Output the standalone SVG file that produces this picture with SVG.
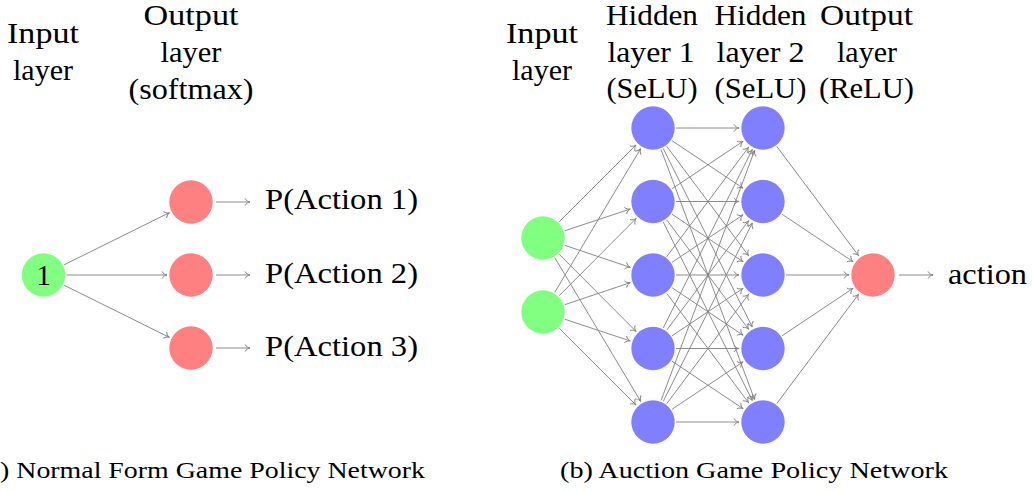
<svg xmlns="http://www.w3.org/2000/svg" width="1033" height="491" viewBox="0 0 1033 491">
<style>
text{font-family:'Liberation Serif','DejaVu Serif',serif;fill:#000;}
.t{font-size:29.5px;text-anchor:middle;}
.s{font-size:29.5px;}
.c{font-size:23px;}
.g{fill:#80ff80;}
.r{fill:#ff8080;}
.b{fill:#8080ff;}
#edges line{stroke:#808080;stroke-width:0.9;fill:none;marker-end:url(#ah);}
</style>
<defs>
<marker id="ah" markerUnits="userSpaceOnUse" orient="auto" viewBox="-6 -5 7 10" markerWidth="7" markerHeight="10" refX="0" refY="0">
<path d="M-5,-3.6 C-4,-1.4 -1.6,-0.3 0,0 C-1.6,0.3 -4,1.4 -5,3.6" fill="none" stroke="#808080" stroke-width="0.9"/>
</marker>
</defs>

<g id="labels" font-family="Liberation Serif, DejaVu Serif, serif">
<text class="t" x="43" y="43" textLength="72" lengthAdjust="spacingAndGlyphs">Input</text>
<text class="t" x="43" y="80" textLength="60" lengthAdjust="spacingAndGlyphs">layer</text>
<text class="t" x="191" y="25" textLength="95" lengthAdjust="spacingAndGlyphs">Output</text>
<text class="t" x="191" y="62" textLength="61" lengthAdjust="spacingAndGlyphs">layer</text>
<text class="t" x="191" y="99" textLength="125" lengthAdjust="spacingAndGlyphs">(softmax)</text>

<text class="t" x="542" y="43" textLength="72" lengthAdjust="spacingAndGlyphs">Input</text>
<text class="t" x="542" y="80" textLength="60" lengthAdjust="spacingAndGlyphs">layer</text>
<text class="t" x="652" y="25" textLength="92" lengthAdjust="spacingAndGlyphs">Hidden</text>
<text class="t" x="651" y="61.5" textLength="87" lengthAdjust="spacingAndGlyphs">layer 1</text>
<text class="t" x="652" y="98" textLength="91" lengthAdjust="spacingAndGlyphs">(SeLU)</text>
<text class="t" x="760.5" y="25" textLength="92" lengthAdjust="spacingAndGlyphs">Hidden</text>
<text class="t" x="760.5" y="61.5" textLength="88" lengthAdjust="spacingAndGlyphs">layer 2</text>
<text class="t" x="760.5" y="98" textLength="92" lengthAdjust="spacingAndGlyphs">(SeLU)</text>
<text class="t" x="866.5" y="25" textLength="93" lengthAdjust="spacingAndGlyphs">Output</text>
<text class="t" x="867" y="61.5" textLength="60" lengthAdjust="spacingAndGlyphs">layer</text>
<text class="t" x="866.5" y="98" textLength="95" lengthAdjust="spacingAndGlyphs">(ReLU)</text>

<text class="s" x="265" y="209" textLength="153" lengthAdjust="spacingAndGlyphs">P(Action 1)</text>
<text class="s" x="265" y="282.5" textLength="153" lengthAdjust="spacingAndGlyphs">P(Action 2)</text>
<text class="s" x="265" y="356" textLength="153" lengthAdjust="spacingAndGlyphs">P(Action 3)</text>
<text class="s" x="948" y="284" textLength="79" lengthAdjust="spacingAndGlyphs">action</text>

<text class="c" x="0" y="478" textLength="425" lengthAdjust="spacingAndGlyphs">) Normal Form Game Policy Network</text>
<text class="c" x="560" y="478" textLength="388" lengthAdjust="spacingAndGlyphs">(b) Auction Game Policy Network</text>
</g>

<g id="edges">
<line x1="64.1" y1="264.8" x2="169.5" y2="212.6"/>
<line x1="66.5" y1="275" x2="167" y2="275"/>
<line x1="64.1" y1="285.2" x2="169.5" y2="337.4"/>
<line x1="216" y1="202" x2="250" y2="202"/>
<line x1="216" y1="275" x2="250" y2="275"/>
<line x1="216" y1="348" x2="250" y2="348"/>

<line x1="559.26" y1="221.74" x2="636.03" y2="144.97"/>
<line x1="564.83" y1="230.76" x2="630.22" y2="209.06"/>
<line x1="564.80" y1="245.33" x2="630.25" y2="267.35"/>
<line x1="559.23" y1="254.30" x2="636.07" y2="331.49"/>
<line x1="554.80" y1="257.74" x2="640.69" y2="401.40"/>
<line x1="554.80" y1="292.26" x2="640.69" y2="148.60"/>
<line x1="559.23" y1="295.70" x2="636.07" y2="218.51"/>
<line x1="564.80" y1="304.67" x2="630.25" y2="282.65"/>
<line x1="564.83" y1="319.24" x2="630.22" y2="340.94"/>
<line x1="559.26" y1="328.26" x2="636.03" y2="405.03"/>

<line x1="676" y1="128" x2="739" y2="128"/>
<line x1="672.12" y1="140.78" x2="743.05" y2="188.17"/>
<line x1="666.78" y1="146.41" x2="748.62" y2="255.78"/>
<line x1="663.27" y1="148.58" x2="752.29" y2="327.02"/>
<line x1="661.06" y1="149.54" x2="754.59" y2="399.52"/>
<line x1="672.12" y1="188.72" x2="743.05" y2="141.33"/>
<line x1="676" y1="201.5" x2="739" y2="201.5"/>
<line x1="672.12" y1="214.28" x2="743.05" y2="261.67"/>
<line x1="666.78" y1="219.91" x2="748.62" y2="329.28"/>
<line x1="663.27" y1="222.08" x2="752.29" y2="400.52"/>
<line x1="666.78" y1="256.59" x2="748.62" y2="147.22"/>
<line x1="672.12" y1="262.22" x2="743.05" y2="214.83"/>
<line x1="676" y1="275" x2="739" y2="275"/>
<line x1="672.12" y1="287.78" x2="743.05" y2="335.17"/>
<line x1="666.78" y1="293.41" x2="748.62" y2="402.78"/>
<line x1="663.27" y1="327.92" x2="752.29" y2="149.48"/>
<line x1="666.78" y1="330.09" x2="748.62" y2="220.72"/>
<line x1="672.12" y1="335.72" x2="743.05" y2="288.33"/>
<line x1="676" y1="348.5" x2="739" y2="348.5"/>
<line x1="672.12" y1="361.28" x2="743.05" y2="408.67"/>
<line x1="661.06" y1="400.46" x2="754.59" y2="150.48"/>
<line x1="663.27" y1="401.42" x2="752.29" y2="222.98"/>
<line x1="666.78" y1="403.59" x2="748.62" y2="294.22"/>
<line x1="672.12" y1="409.22" x2="743.05" y2="361.83"/>
<line x1="676" y1="422" x2="739" y2="422"/>

<line x1="776.78" y1="146.41" x2="858.62" y2="255.78"/>
<line x1="782.12" y1="214.28" x2="853.05" y2="261.67"/>
<line x1="786" y1="275" x2="849" y2="275"/>
<line x1="782.12" y1="335.72" x2="853.05" y2="288.33"/>
<line x1="776.78" y1="403.59" x2="858.62" y2="294.22"/>
<line x1="899" y1="275" x2="933" y2="275"/>
</g>

<g id="a-in"><circle class="g" cx="43.5" cy="275" r="21.7"/><text class="t" x="43.5" y="285" font-family="Liberation Serif, DejaVu Serif, serif">1</text></g>
<g id="a-out1"><circle class="r" cx="191" cy="202" r="21.7"/></g>
<g id="a-out2"><circle class="r" cx="191" cy="275" r="21.7"/></g>
<g id="a-out3"><circle class="r" cx="191" cy="348" r="21.7"/></g>

<g id="b-in1"><circle class="g" cx="543" cy="238" r="21.7"/></g>
<g id="b-in2"><circle class="g" cx="543" cy="312" r="21.7"/></g>
<g id="b-h1-1"><circle class="b" cx="653" cy="128" r="21.7"/></g>
<g id="b-h1-2"><circle class="b" cx="653" cy="201.5" r="21.7"/></g>
<g id="b-h1-3"><circle class="b" cx="653" cy="275" r="21.7"/></g>
<g id="b-h1-4"><circle class="b" cx="653" cy="348.5" r="21.7"/></g>
<g id="b-h1-5"><circle class="b" cx="653" cy="422" r="21.7"/></g>
<g id="b-h2-1"><circle class="b" cx="763" cy="128" r="21.7"/></g>
<g id="b-h2-2"><circle class="b" cx="763" cy="201.5" r="21.7"/></g>
<g id="b-h2-3"><circle class="b" cx="763" cy="275" r="21.7"/></g>
<g id="b-h2-4"><circle class="b" cx="763" cy="348.5" r="21.7"/></g>
<g id="b-h2-5"><circle class="b" cx="763" cy="422" r="21.7"/></g>
<g id="b-out"><circle class="r" cx="873" cy="275" r="21.7"/></g>
</svg>
